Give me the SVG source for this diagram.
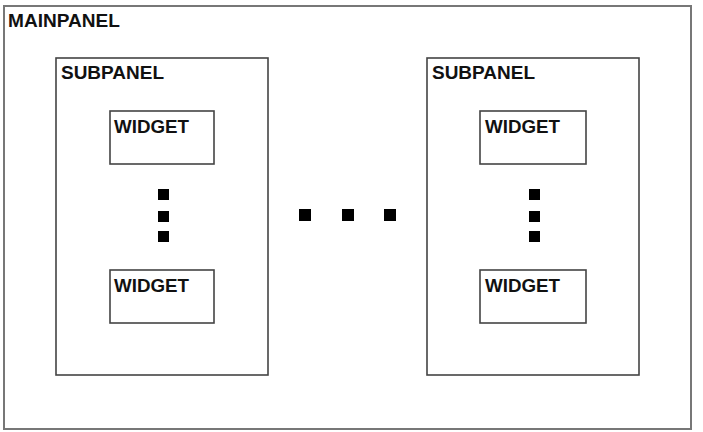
<svg xmlns="http://www.w3.org/2000/svg" width="703" height="432" viewBox="0 0 703 432">
<style>
.box{fill:#fff;stroke:#444;stroke-width:1.6}
.main{fill:#fff;stroke:#777;stroke-width:2}
.lbl{font-family:"Liberation Sans",Arial,sans-serif;font-weight:bold;font-size:18px;fill:#111}
.dot{fill:#000}
</style>
<rect width="703" height="432" fill="#fff"/>
<g id="mainpanel">
<rect class="main" x="4" y="6" width="687" height="423"/>
<text class="lbl" x="8" y="27" textLength="112" lengthAdjust="spacingAndGlyphs">MAINPANEL</text>
</g>
<g id="subpanel1">
<rect class="box" x="56" y="58" width="212" height="317"/>
<text class="lbl" x="61" y="79" textLength="103" lengthAdjust="spacingAndGlyphs">SUBPANEL</text>
</g>
<g id="widget1a">
<rect class="box" x="110" y="111" width="104" height="53"/>
<text class="lbl" x="114" y="133" textLength="75" lengthAdjust="spacingAndGlyphs">WIDGET</text>
</g>
<g id="widget1b">
<rect class="box" x="110" y="270" width="104" height="53"/>
<text class="lbl" x="114" y="292" textLength="75" lengthAdjust="spacingAndGlyphs">WIDGET</text>
</g>
<g id="dots1">
<rect class="dot" x="158" y="189" width="11" height="11"/>
<rect class="dot" x="158" y="211" width="11" height="11"/>
<rect class="dot" x="158" y="231" width="11" height="11"/>
</g>
<g id="subpanel2">
<rect class="box" x="427" y="58" width="212" height="317"/>
<text class="lbl" x="432" y="79" textLength="103" lengthAdjust="spacingAndGlyphs">SUBPANEL</text>
</g>
<g id="widget2a">
<rect class="box" x="480" y="111" width="106" height="53"/>
<text class="lbl" x="485" y="133" textLength="75" lengthAdjust="spacingAndGlyphs">WIDGET</text>
</g>
<g id="widget2b">
<rect class="box" x="480" y="270" width="106" height="53"/>
<text class="lbl" x="485" y="292" textLength="75" lengthAdjust="spacingAndGlyphs">WIDGET</text>
</g>
<g id="dots2">
<rect class="dot" x="529" y="189" width="11" height="11"/>
<rect class="dot" x="529" y="211" width="11" height="11"/>
<rect class="dot" x="529" y="231" width="11" height="11"/>
</g>
<g id="dotsh">
<rect class="dot" x="299" y="209" width="12" height="12"/>
<rect class="dot" x="342" y="209" width="12" height="12"/>
<rect class="dot" x="384" y="209" width="12" height="12"/>
</g>
<g id="connectors"></g>
</svg>
